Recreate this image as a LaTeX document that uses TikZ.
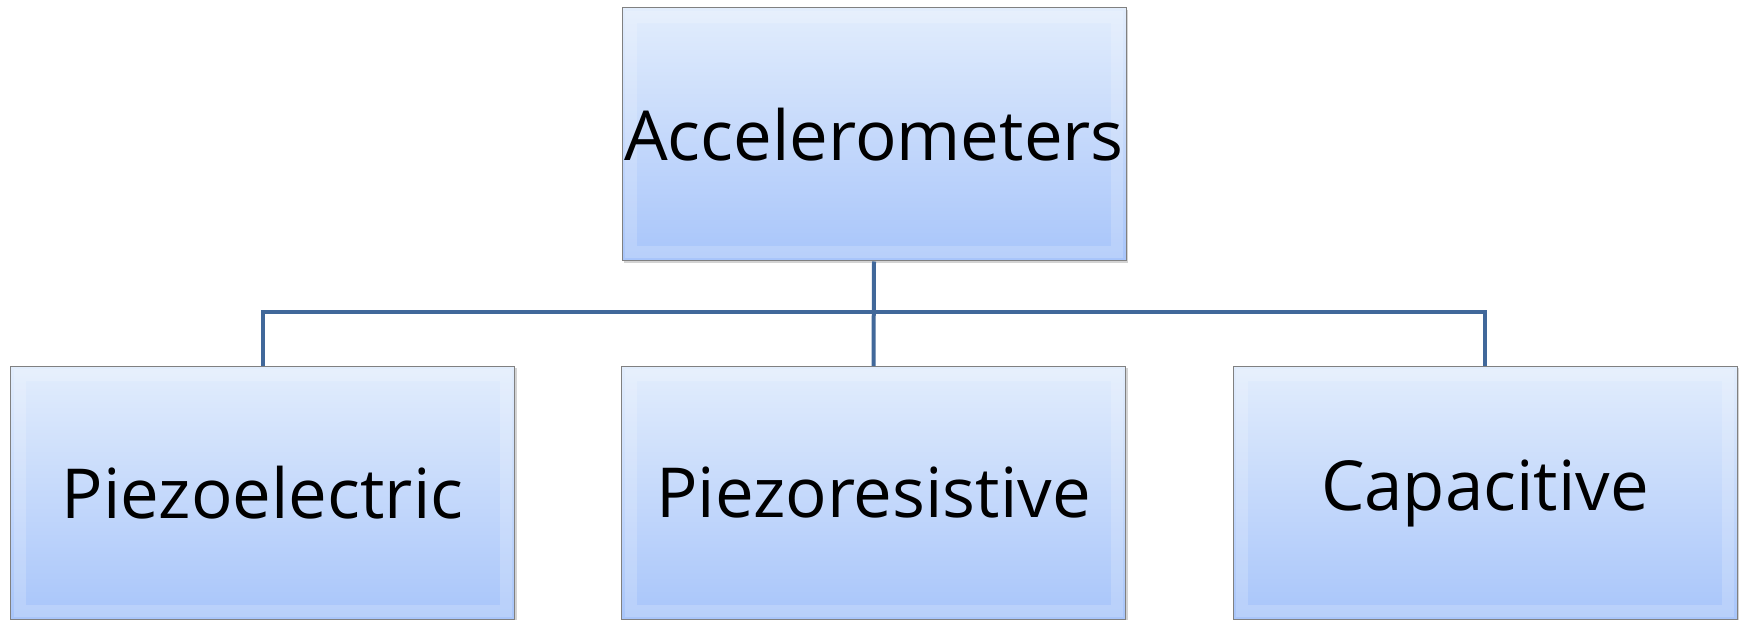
\documentclass[tikz,border=0pt]{standalone}
\usepackage{fontspec}
\setmainfont{Open Sans}
\usetikzlibrary{shadows}
\definecolor{boxtop}{RGB}{226,237,252}
\definecolor{boxbot}{RGB}{168,197,250}
\definecolor{boxedge}{RGB}{128,128,128}
\definecolor{connc}{RGB}{65,104,154}
\tikzset{
  catbox/.style={rectangle, draw=boxedge, line width=1pt,
    top color=boxtop, bottom color=boxbot, minimum width=504pt, minimum height=253pt,
    inner sep=0pt, font=\fontsize{69}{75}\selectfont, text=black,
    drop shadow={shadow xshift=2pt, shadow yshift=-2pt, opacity=0.35},
    path picture={\draw[white, opacity=0.18, line width=12pt]
      ([xshift=9pt,yshift=-9pt]path picture bounding box.north west) rectangle
      ([xshift=-9pt,yshift=9pt]path picture bounding box.south east);}},
  conn/.style={draw=connc, line width=4pt}
}
\begin{document}
\begin{tikzpicture}[x=1pt,y=-1pt]
\useasboundingbox (0,0) rectangle (1741,620);
\node[catbox] (acc) at (874,134.5) {Accelerometers};
\node[catbox] (pe) at (262.5,493) {Piezoelectric};
\node[catbox] (pr) at (873.5,493) {Piezoresistive};
\node[catbox] (cap) at (1485,493) {Capacitive};
\coordinate (bus) at (874,312);
\draw[conn] (acc.south) -- (pr.north);
\draw[conn] (pe.north) |- (bus) -| (cap.north);
\end{tikzpicture}
\end{document}
